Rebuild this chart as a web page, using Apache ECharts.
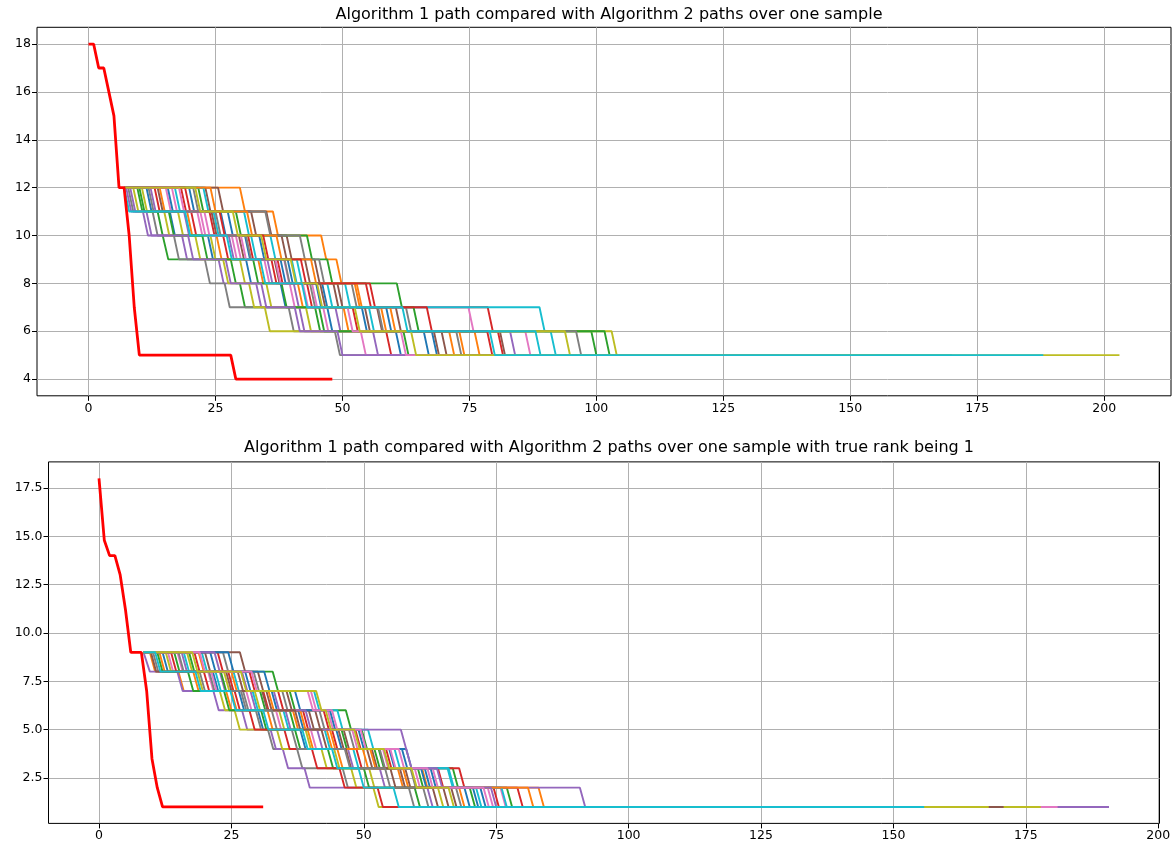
<!DOCTYPE html>
<html>
<head>
<meta charset="utf-8">
<script src="https://cdn.jsdelivr.net/npm/echarts@6/dist/echarts.min.js"></script>
<style>
html,body{margin:0;padding:0;background:#fff;}
#c{width:1176px;height:846px;}
</style>
</head>
<body>
<div id="c"></div>
<script>
// ---------- DATA ----------
const titleTop = 'Algorithm 1 path compared with Algorithm 2 paths over one sample';
const titleBottom = 'Algorithm 1 path compared with Algorithm 2 paths over one sample with true rank being 1';

const xTicksTop = [0, 25, 50, 75, 100, 125, 150, 175, 200];
const yTicksTop = [4, 6, 8, 10, 12, 14, 16, 18];
const xTicksBottom = [0, 25, 50, 75, 100, 125, 150, 175, 200];
const yTicksBottom = [2.5, 5.0, 7.5, 10.0, 12.5, 15.0, 17.5];

// Algorithm 1 (red) paths
const topRedX = [0, 1, 2, 3, 4, 5, 6, 7, 8, 9, 10, 28, 29, 48];
const topRedY = [18, 18, 17, 17, 16, 15, 12, 12, 10, 7, 5, 5, 4, 4];
const bottomRedX = [0, 1, 2, 3, 4, 5, 6, 8, 9, 10, 11, 12, 31];
const bottomRedY = [18, 14.8, 14, 14, 13, 11.2, 9, 9, 7, 3.5, 2, 1, 1];

// Algorithm 2 paths, top panel: branch point, then x where each level 12..6 is left, then end x
const topBranch = [7, 12];
const topPaths = [
  [11.4, 16.0, 23.5, 31.0, 37.8, 47.0, 60.5, 110],
  [29.8, 36.3, 45.8, 48.8, 52.4, 57.6, 76.0, 135],
  [9.6, 13.6, 14.7, 28.0, 29.8, 44.6, 99.0, 142],
  [13.0, 20.2, 26.5, 36.0, 54.6, 78.6, 80.6, 125],
  [8.2, 10.7, 18.4, 25.6, 33.0, 41.5, 83.0, 150],
  [25.5, 35.0, 39.0, 44.5, 49.0, 60.5, 81.0, 118],
  [15.2, 22.0, 29.0, 38.5, 44.0, 74.8, 86.0, 132],
  [7.8, 12.6, 16.8, 22.9, 26.8, 39.4, 48.5, 100],
  [10.5, 14.9, 21.0, 26.5, 31.6, 34.7, 103.0, 160],
  [17.0, 24.6, 32.0, 40.0, 50.5, 88.8, 91.0, 170],
  [19.8, 27.4, 33.6, 39.2, 46.0, 53.8, 66.0, 115],
  [14.0, 19.4, 25.2, 33.4, 41.2, 50.2, 71.0, 128],
  [21.6, 29.0, 43.0, 47.0, 60.7, 64.0, 101.6, 145],
  [18.2, 23.8, 31.4, 37.2, 43.0, 52.0, 58.6, 112],
  [12.2, 18.8, 27.6, 35.2, 40.4, 48.6, 56.0, 138],
  [23.0, 32.0, 38.0, 42.6, 48.2, 56.8, 69.5, 122],
  [16.4, 21.4, 28.2, 34.6, 39.6, 46.2, 53.6, 130],
  [20.6, 34.8, 41.6, 45.4, 51.8, 62.5, 96.0, 140],
  [8.8, 17.6, 24.0, 29.8, 35.0, 42.8, 93.8, 155],
  [22.6, 30.6, 35.8, 41.0, 47.0, 55.2, 88.0, 146],
  [15.6, 26.0, 30.8, 37.8, 44.8, 58.6, 67.6, 119],
  [24.0, 31.2, 37.0, 43.8, 52.8, 59.4, 73.0, 127],
  [10.0, 15.8, 22.4, 32.4, 38.0, 45.4, 62.0, 113],
  [19.0, 25.8, 34.4, 41.8, 55.4, 66.6, 78.5, 133],
  [7.4, 11.4, 19.6, 27.0, 34.0, 40.6, 49.0, 148],
  [13.6, 24.2, 29.6, 36.6, 45.6, 54.4, 68.0, 131],
  [17.8, 22.8, 30.0, 36.8, 42.2, 51.0, 61.5, 144],
  [11.8, 25.0, 31.0, 38.6, 43.6, 57.0, 72.4, 136],
  [21.0, 28.4, 34.0, 39.8, 45.0, 52.4, 63.5, 203],
  [7.0, 19.0, 27.2, 33.8, 42.0, 61.8, 79.0, 188]
];

// Algorithm 2 paths, bottom panel: branch point, then x where each level 9..2 is left, then end x
const bottomBranch = [8.4, 9];
const bottomPaths = [
  [12.0, 21.5, 26.4, 30.0, 38.0, 58.0, 61.5, 72.0, 120],
  [9.6, 15.0, 24.0, 31.8, 39.4, 45.0, 56.4, 83.0, 130],
  [14.2, 32.8, 36.0, 46.6, 49.6, 52.0, 66.8, 70.0, 125],
  [18.0, 24.4, 31.0, 38.5, 44.0, 48.6, 68.0, 74.5, 118],
  [15.6, 22.8, 28.6, 35.2, 41.2, 47.0, 53.0, 62.0, 110],
  [26.6, 30.0, 35.4, 40.8, 46.2, 51.5, 57.8, 66.5, 128],
  [13.0, 20.6, 40.0, 43.2, 47.8, 53.6, 59.6, 75.8, 135],
  [10.2, 19.0, 27.2, 29.6, 31.9, 37.4, 46.0, 58.5, 115],
  [16.6, 23.6, 29.4, 34.0, 39.0, 44.4, 51.0, 64.0, 122],
  [19.4, 25.4, 40.6, 45.0, 50.8, 55.8, 66.0, 71.2, 132],
  [21.0, 27.6, 32.6, 37.6, 44.8, 57.2, 62.6, 69.0, 126],
  [11.4, 17.8, 25.0, 36.6, 43.0, 49.8, 61.0, 68.0, 136],
  [17.0, 23.0, 30.4, 36.0, 45.8, 52.8, 60.2, 77.0, 119],
  [22.4, 28.4, 33.8, 42.4, 48.4, 54.2, 64.0, 79.0, 127],
  [8.6, 14.8, 21.6, 27.0, 32.4, 34.7, 38.8, 90.8, 190.7],
  [20.0, 26.2, 31.6, 39.6, 45.2, 50.6, 56.8, 65.0, 124],
  [14.8, 21.2, 27.8, 33.4, 40.0, 56.6, 63.0, 73.4, 181],
  [23.4, 29.2, 34.6, 41.6, 47.2, 53.0, 58.8, 67.4, 133],
  [12.6, 18.6, 22.8, 25.6, 33.6, 42.0, 47.6, 51.8, 177.8],
  [16.0, 22.0, 29.0, 34.8, 42.6, 48.0, 65.8, 76.0, 131],
  [24.4, 31.2, 37.0, 43.6, 49.0, 54.8, 60.8, 70.6, 121],
  [18.8, 25.0, 32.0, 38.0, 43.6, 51.2, 57.4, 81.0, 129],
  [11.0, 16.8, 23.6, 30.6, 37.0, 43.2, 50.0, 59.6, 117],
  [13.6, 19.8, 25.6, 28.4, 35.0, 40.2, 45.4, 52.6, 138],
  [21.8, 27.0, 33.0, 39.0, 57.0, 58.0, 63.8, 74.0, 134],
  [9.8, 24.0, 30.8, 37.0, 42.0, 46.6, 55.0, 63.0, 170.8],
  [19.0, 28.8, 39.4, 44.0, 49.4, 55.0, 62.0, 72.6, 140],
  [15.0, 20.8, 26.8, 32.6, 36.4, 46.4, 54.0, 61.2, 137],
  [17.6, 26.8, 41.0, 42.8, 48.2, 53.8, 59.0, 66.0, 168],
  [10.6, 18.2, 24.8, 31.0, 38.4, 44.0, 49.0, 55.6, 155.8]
];

const palette = ['#1f77b4', '#ff7f0e', '#2ca02c', '#d62728', '#9467bd',
                 '#8c564b', '#e377c2', '#7f7f7f', '#bcbd22', '#17becf'];

// ---------- BUILD ----------
function stepPath(branch, row) {
  const pts = [[branch[0], branch[1]]];
  let level = branch[1];
  const drops = row.slice(0, row.length - 1);
  const end = row[row.length - 1];
  for (const d of drops) {
    pts.push([d, level]);
    pts.push([d + 1, level - 1]);
    level -= 1;
  }
  pts.push([end, level]);
  return pts;
}
function zip(xs, ys) { return xs.map((x, i) => [x, ys[i]]); }

const series = [];
topPaths.forEach((row, i) => {
  series.push({
    type: 'line', xAxisIndex: 0, yAxisIndex: 0, data: stepPath(topBranch, row),
    showSymbol: false, symbol: 'none', silent: true,
    lineStyle: { color: palette[i % 10], width: 1.9 }, z: 2
  });
});
series.push({
  type: 'line', xAxisIndex: 0, yAxisIndex: 0, data: zip(topRedX, topRedY),
  showSymbol: false, symbol: 'none', silent: true,
  lineStyle: { color: '#ff0000', width: 2.8 }, z: 3
});
bottomPaths.forEach((row, i) => {
  series.push({
    type: 'line', xAxisIndex: 1, yAxisIndex: 1, data: stepPath(bottomBranch, row),
    showSymbol: false, symbol: 'none', silent: true,
    lineStyle: { color: palette[i % 10], width: 1.9 }, z: 2
  });
});
series.push({
  type: 'line', xAxisIndex: 1, yAxisIndex: 1, data: zip(bottomRedX, bottomRedY),
  showSymbol: false, symbol: 'none', silent: true,
  lineStyle: { color: '#ff0000', width: 2.8 }, z: 3
});

const FONT = 'DejaVu Sans';
function xAxis(gi, min, max, ticks) {
  return {
    type: 'value', gridIndex: gi, min: min, max: max, position: 'bottom',
    axisLine: { show: false, onZero: false },
    axisTick: { show: true, inside: false, length: 5, customValues: ticks, lineStyle: { color: '#000', width: 1 } },
    axisLabel: { customValues: ticks, color: '#000', fontFamily: FONT, fontSize: 12.5, margin: 6 },
    splitLine: { show: true, lineStyle: { color: '#b0b0b0', width: 1 } }
  };
}
function yAxis(gi, min, max, ticks, fmt) {
  return {
    type: 'value', gridIndex: gi, min: min, max: max, position: 'left',
    axisLine: { show: false, onZero: false },
    axisTick: { show: true, inside: false, length: 5, customValues: ticks, lineStyle: { color: '#000', width: 1 } },
    axisLabel: { customValues: ticks, color: '#000', fontFamily: FONT, fontSize: 12.5, margin: 6, formatter: fmt },
    splitLine: { show: true, lineStyle: { color: '#b0b0b0', width: 1 } }
  };
}

const option = {
  animation: false,
  backgroundColor: '#fff',
  title: [
    { text: titleTop, left: 604, top: 2, textAlign: 'center',
      textStyle: { fontFamily: FONT, fontSize: 16, fontWeight: 'normal', color: '#000' } },
    { text: titleBottom, left: 604, top: 435, textAlign: 'center',
      textStyle: { fontFamily: FONT, fontSize: 16, fontWeight: 'normal', color: '#000' } }
  ],
  grid: [
    { left: 37, top: 27.3, width: 1134, height: 368.5, show: true, borderColor: '#000', borderWidth: 1, backgroundColor: 'transparent' },
    { left: 48.5, top: 461.9, width: 1111, height: 361.5, show: true, borderColor: '#000', borderWidth: 1, backgroundColor: 'transparent' }
  ],
  xAxis: [
    xAxis(0, -10.15, 213.15, xTicksTop),
    xAxis(1, -9.535, 200.235, xTicksBottom)
  ],
  yAxis: [
    yAxis(0, 3.3, 18.7, yTicksTop, v => String(Math.round(v))),
    yAxis(1, 0.15, 18.85, yTicksBottom, v => v.toFixed(1))
  ],
  series: series
};

const chart = echarts.init(document.getElementById('c'), null, { renderer: 'canvas' });
chart.setOption(option);
</script>
</body>
</html>
